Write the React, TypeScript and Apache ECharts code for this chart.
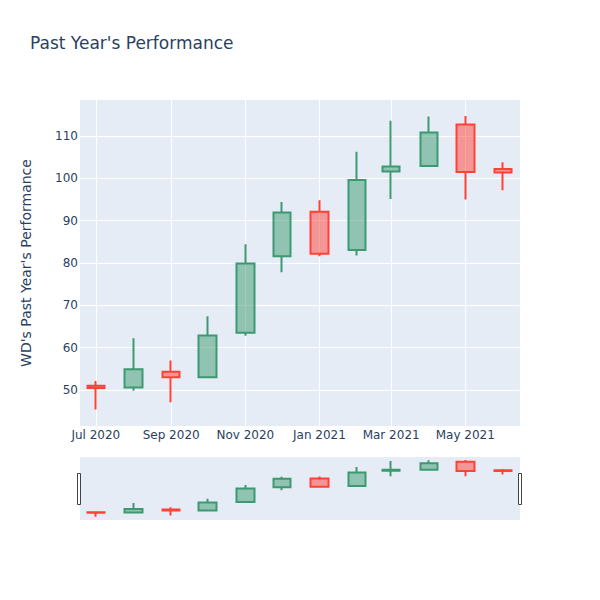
import React, { useEffect, useRef } from 'react';
import * as echarts from 'echarts';

const months = ['2020-07-01', '2020-08-01', '2020-09-01', '2020-10-01', '2020-11-01', '2020-12-01', '2021-01-01', '2021-02-01', '2021-03-01', '2021-04-01', '2021-05-01', '2021-06-01'];
const opens = [51.0, 50.6, 54.3, 53.0, 63.5, 81.6, 92.1, 83.1, 101.6, 102.9, 112.7, 102.2];
const closes = [50.5, 54.9, 53.0, 62.9, 79.9, 91.9, 82.2, 99.6, 102.8, 110.8, 101.5, 101.4];
const lows = [45.4, 49.8, 47.1, 52.8, 62.8, 77.8, 81.6, 81.8, 95.1, 102.9, 95.0, 97.2];
const highs = [52.1, 62.2, 57.0, 67.4, 84.4, 94.4, 94.8, 106.3, 113.6, 114.6, 114.7, 103.8];
const yTicks = [50, 60, 70, 80, 90, 100, 110];
const xTicks = ['2020-07-01', '2020-09-01', '2020-11-01', '2021-01-01', '2021-03-01', '2021-05-01'];
const monthNames = ['Jan', 'Feb', 'Mar', 'Apr', 'May', 'Jun', 'Jul', 'Aug', 'Sep', 'Oct', 'Nov', 'Dec'];
const xMin = '2020-06-18';
const xMax = '2021-06-15';
const yMin = 41.5;
const yMax = 118.5;

const ts = (s: string) => +echarts.time.parse(s);

export default function App() {
  const ref = useRef<HTMLDivElement>(null);
  useEffect(() => {
    if (!ref.current) return;
    const chart = echarts.init(ref.current, undefined, { renderer: 'svg' });
    const data = months.map((m, i) => [ts(m), opens[i], closes[i], lows[i], highs[i]]);
    const itemStyle = {
      color: 'rgba(61,153,112,0.5)',
      color0: 'rgba(255,65,54,0.5)',
      borderColor: '#3D9970',
      borderColor0: '#FF4136',
      borderWidth: 2,
    };
    const font = '"DejaVu Sans", Verdana, sans-serif';
    chart.setOption({
      animation: false,
      backgroundColor: '#fff',
      textStyle: { fontFamily: font },
      title: {
        text: "Past Year's Performance",
        left: 30,
        top: 34,
        padding: 0,
        textStyle: { fontSize: 17, fontWeight: 'normal', color: '#2a3f5f', fontFamily: font },
      },
      grid: [
        { left: 80, right: 80, top: 100, height: 326, show: true, backgroundColor: '#E5ECF6', borderWidth: 0 },
        { left: 80, right: 80, top: 457, height: 63, show: true, backgroundColor: '#E5ECF6', borderWidth: 0 },
      ],
      xAxis: [
        {
          type: 'value',
          gridIndex: 0,
          min: ts(xMin),
          max: ts(xMax),
          axisLine: { show: false },
          axisTick: { show: false, customValues: xTicks.map(ts) },
          axisLabel: {
            customValues: xTicks.map(ts),
            color: '#2a3f5f',
            fontSize: 12,
            margin: 3,
            fontFamily: font,
            formatter: (v: number) => {
              const d = new Date(v);
              return monthNames[d.getMonth()] + ' ' + d.getFullYear();
            },
          },
          splitLine: { show: true, lineStyle: { color: '#fff', width: 1 } },
        },
        {
          type: 'value',
          gridIndex: 1,
          min: ts(xMin),
          max: ts(xMax),
          axisLine: { show: false },
          axisTick: { show: false },
          axisLabel: { show: false },
          splitLine: { show: false },
        },
      ],
      yAxis: [
        {
          type: 'value',
          gridIndex: 0,
          min: yMin,
          max: yMax,
          name: "WD's Past Year's Performance",
          nameLocation: 'middle',
          nameGap: 47,
          nameTextStyle: { color: '#2a3f5f', fontSize: 14, fontFamily: font },
          axisLine: { show: false },
          axisTick: { show: false, customValues: yTicks },
          axisLabel: { customValues: yTicks, color: '#2a3f5f', fontSize: 12, margin: 2, fontFamily: font },
          splitLine: { show: true, lineStyle: { color: '#fff', width: 1 } },
        },
        {
          type: 'value',
          gridIndex: 1,
          min: yMin,
          max: yMax,
          axisLine: { show: false },
          axisTick: { show: false },
          axisLabel: { show: false },
          splitLine: { show: false },
        },
      ],
      series: [
        { type: 'candlestick', xAxisIndex: 0, yAxisIndex: 0, barWidth: 18, itemStyle, data },
        { type: 'candlestick', xAxisIndex: 1, yAxisIndex: 1, barWidth: 18, itemStyle, data, silent: true },
      ],
      graphic: [
        { type: 'rect', z: 100, shape: { x: 77.5, y: 473.5, width: 3, height: 31 }, style: { fill: '#fff', stroke: '#444', lineWidth: 1 } },
        { type: 'rect', z: 100, shape: { x: 518.5, y: 473.5, width: 3, height: 31 }, style: { fill: '#fff', stroke: '#444', lineWidth: 1 } },
      ],
    });
    return () => chart.dispose();
  }, []);
  return <div ref={ref} style={{ position: 'fixed', left: 0, top: 0, width: 600, height: 600 }} />;
}
